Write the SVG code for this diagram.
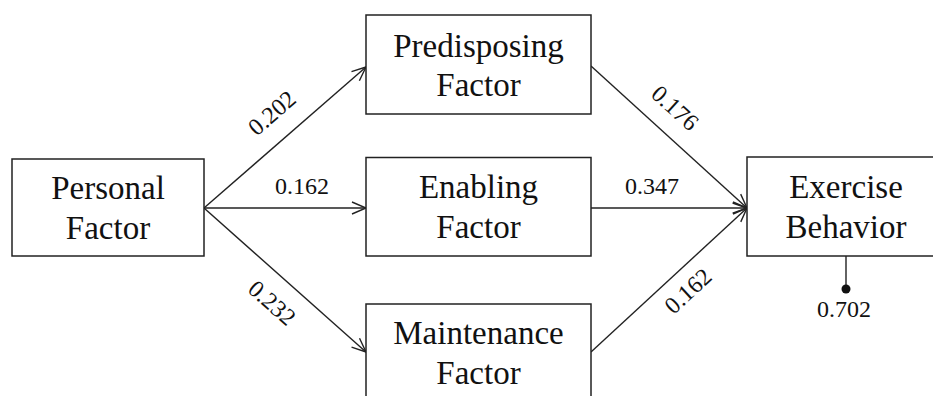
<svg xmlns="http://www.w3.org/2000/svg" width="933" height="396" viewBox="0 0 933 396">
<style>
.box{fill:#fff;stroke:#222;stroke-width:1.5}
.nt{font-family:'Liberation Serif','Times New Roman',serif;font-size:33px;fill:#111;text-anchor:middle}
.lb{font-family:'Liberation Serif','Times New Roman',serif;font-size:24px;fill:#111;text-anchor:middle}
.edge{stroke:#222;stroke-width:1.4;fill:none;marker-end:url(#arr)}
</style>
<defs>
<marker id="arr" markerUnits="userSpaceOnUse" markerWidth="16" markerHeight="14" refX="14" refY="7" orient="auto" overflow="visible">
<path d="M0,1 L14,7 L0,13" fill="none" stroke="#222" stroke-width="1.4"/>
</marker>
</defs>
<rect width="933" height="396" fill="#fff"/>
<g id="connectors">
<line class="edge" x1="204" y1="208" x2="366" y2="67"/>
<line class="edge" x1="204" y1="208" x2="366" y2="208"/>
<line class="edge" x1="204" y1="208" x2="366" y2="352"/>
<line class="edge" x1="591" y1="66" x2="747" y2="208"/>
<line class="edge" x1="591" y1="208" x2="747" y2="208"/>
<line class="edge" x1="591" y1="352" x2="747" y2="208"/>
<line x1="846" y1="256" x2="846" y2="288" stroke="#222" stroke-width="1.4"/>
<circle cx="846" cy="289" r="4.5" fill="#111"/>
<text class="lb" transform="translate(272,113) rotate(-41)" x="0" y="8">0.202</text>
<text class="lb" x="302" y="194">0.162</text>
<text class="lb" transform="translate(272,303) rotate(41.6)" x="0" y="8">0.232</text>
<text class="lb" transform="translate(675,108) rotate(42.3)" x="0" y="8">0.176</text>
<text class="lb" x="652" y="194">0.347</text>
<text class="lb" transform="translate(688,291) rotate(-42.7)" x="0" y="8">0.162</text>
<text class="lb" x="844" y="317">0.702</text>
</g>
<g id="personal">
<rect class="box" x="12" y="159" width="192" height="97"/>
<text class="nt" x="108" y="199">Personal</text>
<text class="nt" x="108" y="239">Factor</text>
</g>
<g id="predisposing">
<rect class="box" x="366" y="15" width="225" height="99"/>
<text class="nt" x="478.5" y="56.5">Predisposing</text>
<text class="nt" x="478.5" y="96">Factor</text>
</g>
<g id="enabling">
<rect class="box" x="366" y="157.5" width="225" height="98.5"/>
<text class="nt" x="478.5" y="198">Enabling</text>
<text class="nt" x="478.5" y="237.5">Factor</text>
</g>
<g id="maintenance">
<rect class="box" x="366" y="304" width="225" height="110"/>
<text class="nt" x="478.5" y="344">Maintenance</text>
<text class="nt" x="478.5" y="384">Factor</text>
</g>
<g id="exercise">
<rect class="box" x="747" y="157" width="200" height="99"/>
<text class="nt" x="846" y="198">Exercise</text>
<text class="nt" x="846" y="237.5">Behavior</text>
</g>
</svg>
